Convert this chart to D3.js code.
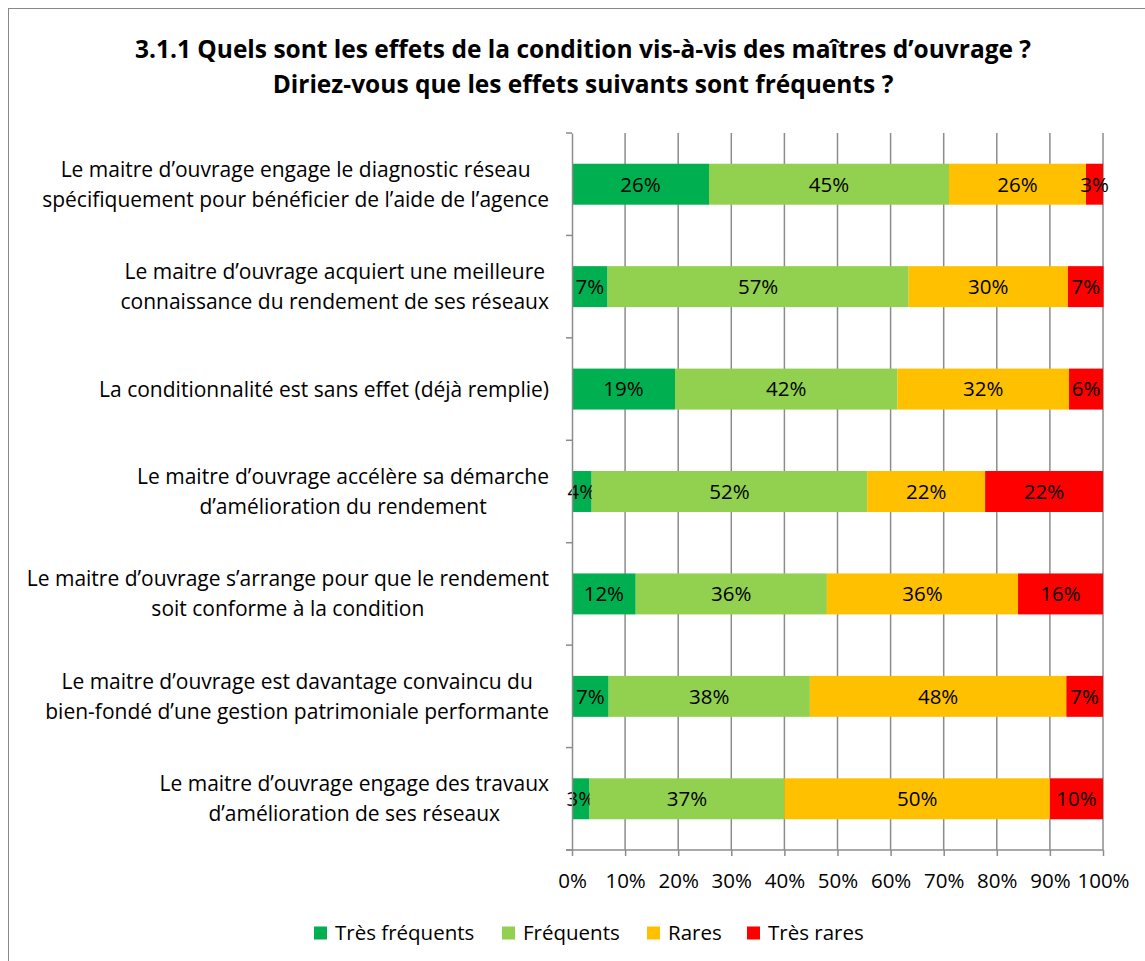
<!DOCTYPE html>
<html>
<head>
<meta charset="utf-8">
<script src="https://cdn.jsdelivr.net/npm/d3@7"></script>
<style>
  body { margin: 0; background: #fff; }
  svg text { font-family: "Open Sans", Lato, sans-serif; fill: #000; }
</style>
</head>
<body>
<svg id="chart" width="1145" height="961"></svg>
<script>
// categories, top to bottom
var categories = [
  ["Le maitre d\u2019ouvrage engage le diagnostic réseau", "spécifiquement pour bénéficier de l\u2019aide de l\u2019agence"],
  ["Le maitre d\u2019ouvrage acquiert une meilleure", "connaissance du rendement de ses réseaux"],
  ["La conditionnalité est sans effet (déjà remplie)"],
  ["Le maitre d\u2019ouvrage accélère sa démarche", "d\u2019amélioration du rendement"],
  ["Le maitre d\u2019ouvrage s\u2019arrange pour que le rendement", "soit conforme à la condition"],
  ["Le maitre d\u2019ouvrage est davantage convaincu du", "bien-fondé d\u2019une gestion patrimoniale performante"],
  ["Le maitre d\u2019ouvrage engage des travaux", "d\u2019amélioration de ses réseaux"]
];

var seriesNames = ["Très fréquents", "Fréquents", "Rares", "Très rares"];
var seriesColors = ["#00b050", "#92d050", "#ffc000", "#ff0000"];

// percentages per series, same order as categories
var tresFrequents = [25.8, 6.7, 19.4, 3.7, 12.0, 6.9, 3.3];
var frequents     = [45.2, 56.7, 41.9, 51.9, 36.0, 37.9, 36.7];
var rares         = [25.8, 30.0, 32.3, 22.2, 36.0, 48.3, 50.0];
var tresRares     = [3.2, 6.7, 6.4, 22.2, 16.0, 6.9, 10.0];

var xTicks = [0, 10, 20, 30, 40, 50, 60, 70, 80, 90, 100];

var titleLines = [
  "3.1.1 Quels sont les effets de la condition vis-à-vis des maîtres d\u2019ouvrage ?",
  "Diriez-vous que les effets suivants sont fréquents ?"
];

var svg = d3.select("#chart");

// outer border
svg.append("rect")
  .attr("x", 8.5).attr("y", 8.5)
  .attr("width", 1150).attr("height", 960)
  .attr("fill", "none").attr("stroke", "#888").attr("stroke-width", 1);

svg.append("g").selectAll("text")
  .data(titleLines)
  .join("text")
  .attr("x", 583)
  .attr("y", function(d, i) { return 58 + i * 35; })
  .attr("text-anchor", "middle")
  .attr("font-size", 24.5)
  .attr("font-weight", "bold")
  .text(function(d) { return d; });

var plotL = 572, plotR = 1103, plotT = 133, plotB = 850;

var x = d3.scaleLinear().domain([0, 100]).range([plotL, plotR]);
var y = d3.scaleBand().domain(d3.range(categories.length)).range([plotT, plotB]).paddingInner(0.6).paddingOuter(0.3);
var yb = d3.scaleBand().domain(d3.range(categories.length)).range([plotT, plotB]);

// vertical gridlines
svg.append("g").selectAll("line")
  .data(xTicks.slice(1))
  .join("line")
  .attr("x1", function(d) { return x(d); })
  .attr("x2", function(d) { return x(d); })
  .attr("y1", plotT).attr("y2", plotB)
  .attr("stroke", "#8c8c8c").attr("stroke-width", 1.5);

// stack the series
var rows = categories.map(function(c, i) {
  return { i: i, a: tresFrequents[i], b: frequents[i], c: rares[i], d: tresRares[i] };
});
var stack = d3.stack().keys(["a", "b", "c", "d"]);
var layers = stack(rows);

var fmt = function(v) { return Math.round(v) + "%"; };

var gl = svg.append("g").selectAll("g")
  .data(layers)
  .join("g")
  .attr("fill", function(d, k) { return seriesColors[k]; });

gl.selectAll("rect")
  .data(function(d) { return d; })
  .join("rect")
  .attr("x", function(d) { return x(d[0]); })
  .attr("width", function(d) { return x(d[1]) - x(d[0]); })
  .attr("y", function(d) { return y(d.data.i); })
  .attr("height", y.bandwidth());

gl.selectAll("text")
  .data(function(d) { return d; })
  .join("text")
  .attr("x", function(d) { return (x(d[0]) + x(d[1])) / 2; })
  .attr("y", function(d) { return y(d.data.i) + y.bandwidth() / 2; })
  .attr("dy", "0.36em")
  .attr("text-anchor", "middle")
  .attr("font-size", 20.5)
  .text(function(d) { return fmt(d[1] - d[0]); });

// y axis
var yAxis = d3.axisLeft(yb).tickValues([]).tickSizeOuter(0);
var gy = svg.append("g").attr("transform", "translate(" + plotL + ",0)").call(yAxis);
gy.select(".domain").attr("stroke", "#8c8c8c").attr("stroke-width", 1.5);
gy.selectAll("line.sep")
  .data(d3.range(categories.length + 1))
  .join("line")
  .attr("class", "sep")
  .attr("x1", -6).attr("x2", 0)
  .attr("y1", function(d) { return plotT + d * yb.step(); })
  .attr("y2", function(d) { return plotT + d * yb.step(); })
  .attr("stroke", "#8c8c8c").attr("stroke-width", 1.5);

// category labels: centred block, right edge near the axis
var lab = svg.append("g").selectAll("text")
  .data(categories)
  .join("text")
  .attr("text-anchor", "middle")
  .attr("font-size", 21);
lab.selectAll("tspan")
  .data(function(d) { return d.map(function(t, j) { return { t: t, j: j, n: d.length }; }); })
  .join("tspan")
  .attr("x", 0)
  .attr("y", function(d) { return (d.j - (d.n - 1) / 2) * 30; })
  .attr("dy", "0.36em")
  .text(function(d) { return d.t; });
lab.attr("transform", function(d, i) {
  var w = d3.max(d3.select(this).selectAll("tspan").nodes(), function(n) { return n.getComputedTextLength(); });
  return "translate(" + (549 - w / 2) + "," + (yb(i) + yb.bandwidth() / 2) + ")";
});

// x axis
var xAxis = d3.axisBottom(x).tickValues(xTicks).tickSize(6).tickSizeOuter(0)
  .tickFormat(function(d) { return d + "%"; });
var gx = svg.append("g").attr("transform", "translate(0," + plotB + ")").call(xAxis);
gx.select(".domain").attr("d", "M" + (plotL - 6) + ",0H" + plotR).attr("stroke", "#8c8c8c").attr("stroke-width", 1.5);
gx.selectAll(".tick line").attr("stroke", "#8c8c8c").attr("stroke-width", 1.5);
gx.selectAll(".tick text").attr("font-size", 20.5).attr("y", 31).attr("dy", "0.36em")
  .attr("font-family", "'Open Sans', sans-serif").attr("fill", "#000");

// legend
var legendX = [314, 502, 647, 747];
var lg = svg.append("g").selectAll("g")
  .data(seriesNames)
  .join("g")
  .attr("transform", function(d, i) { return "translate(" + legendX[i] + ",933)"; });
lg.append("rect")
  .attr("x", 0).attr("y", -6.5).attr("width", 13).attr("height", 13)
  .attr("fill", function(d, i) { return seriesColors[i]; });
lg.append("text")
  .attr("x", 21).attr("dy", "0.36em")
  .attr("font-size", 20.5)
  .text(function(d) { return d; });
</script>
</body>
</html>
